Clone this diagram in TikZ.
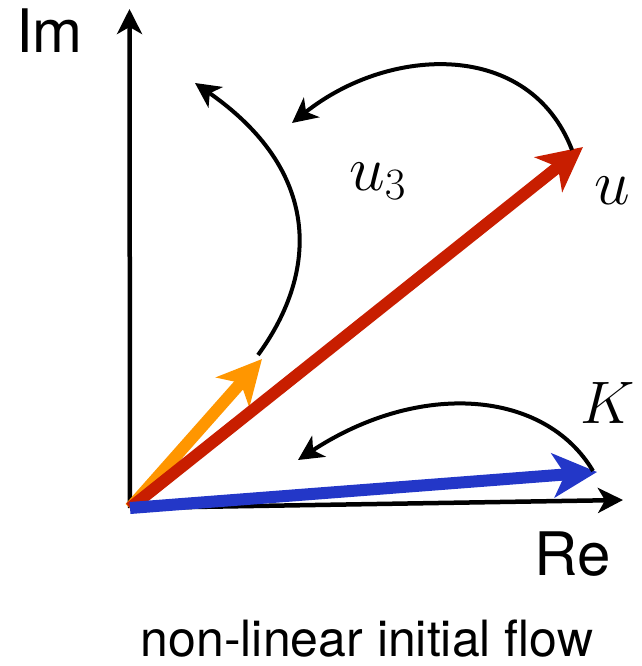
\RequirePackage{fix-cm}
\documentclass[tikz,border=0pt]{standalone}
\usepackage{fontspec}
\newfontfamily\helv{TeX Gyre Heros}
\usetikzlibrary{arrows.meta}

\definecolor{vecred}{RGB}{200,30,0}
\definecolor{vecorange}{RGB}{255,150,0}
\definecolor{vecblue}{RGB}{35,55,200}

\begin{document}
\begin{tikzpicture}[x=1pt, y=-1pt,
    axis/.style={line width=4.5pt, -{Stealth[length=25pt,width=25pt,inset=7pt]}},
    vec/.style={line width=12pt, -{Stealth[length=44pt,width=44pt,inset=12pt]}},
    flow/.style={line width=4pt, -{Stealth[length=25pt,width=25pt,inset=7pt]}},
    lbl/.style={inner sep=0pt, font=\helv\fontsize{60}{72}\selectfont},
    mlbl/.style={inner sep=0pt, font=\fontsize{64}{76}\selectfont}]
  \useasboundingbox (0,0) rectangle (641,666);

  % points
  \coordinate (O) at (130,508);
  \coordinate (imend) at (129.5,9);
  \coordinate (reend) at (623,500);
  \coordinate (utip) at (583,147);
  \coordinate (uthreetip) at (262,359);
  \coordinate (ktip) at (597,472);

  % axes
  \draw[axis] (O) -- (imend);
  \draw[axis] (O) -- (reend);
  \node[lbl, anchor=base] (im) at (49.5,53) {Im};
  \node[lbl, anchor=base] (re) at (573,575) {Re};

  % vectors
  \draw[vec, vecorange] (O) -- (uthreetip);
  \draw[vec, vecred] (O) -- (utip);
  \draw[vec, vecblue] (O) -- (ktip);

  % flow of the vectors
  \coordinate (uthreefrom) at (258,355);
  \coordinate (uthreeto) at (195,83);
  \coordinate (ufrom) at (572,150);
  \coordinate (uto) at (292,123);
  \coordinate (kfrom) at (593,471);
  \coordinate (kto) at (298,460);
  \draw[flow] (uthreefrom) .. controls (320,270) and (320,170) .. (uthreeto);
  \draw[flow] (ufrom) .. controls (530,40) and (390,45) .. (uto);
  \draw[flow] (kfrom) .. controls (545,390) and (420,380) .. (kto);

  % labels
  \node[mlbl, anchor=base west] (uthree) at (349,190) {$u_3$};
  \node[mlbl, anchor=base west] (u) at (594,204) {$u$};
  \node[mlbl, anchor=base west, font=\fontsize{60}{72}\selectfont] (k) at (580,423) {$K$};
  \node[lbl, anchor=base, font=\helv\fontsize{50}{60}\selectfont] (caption) at (367,656) {non-linear initial flow};
\end{tikzpicture}
\end{document}
